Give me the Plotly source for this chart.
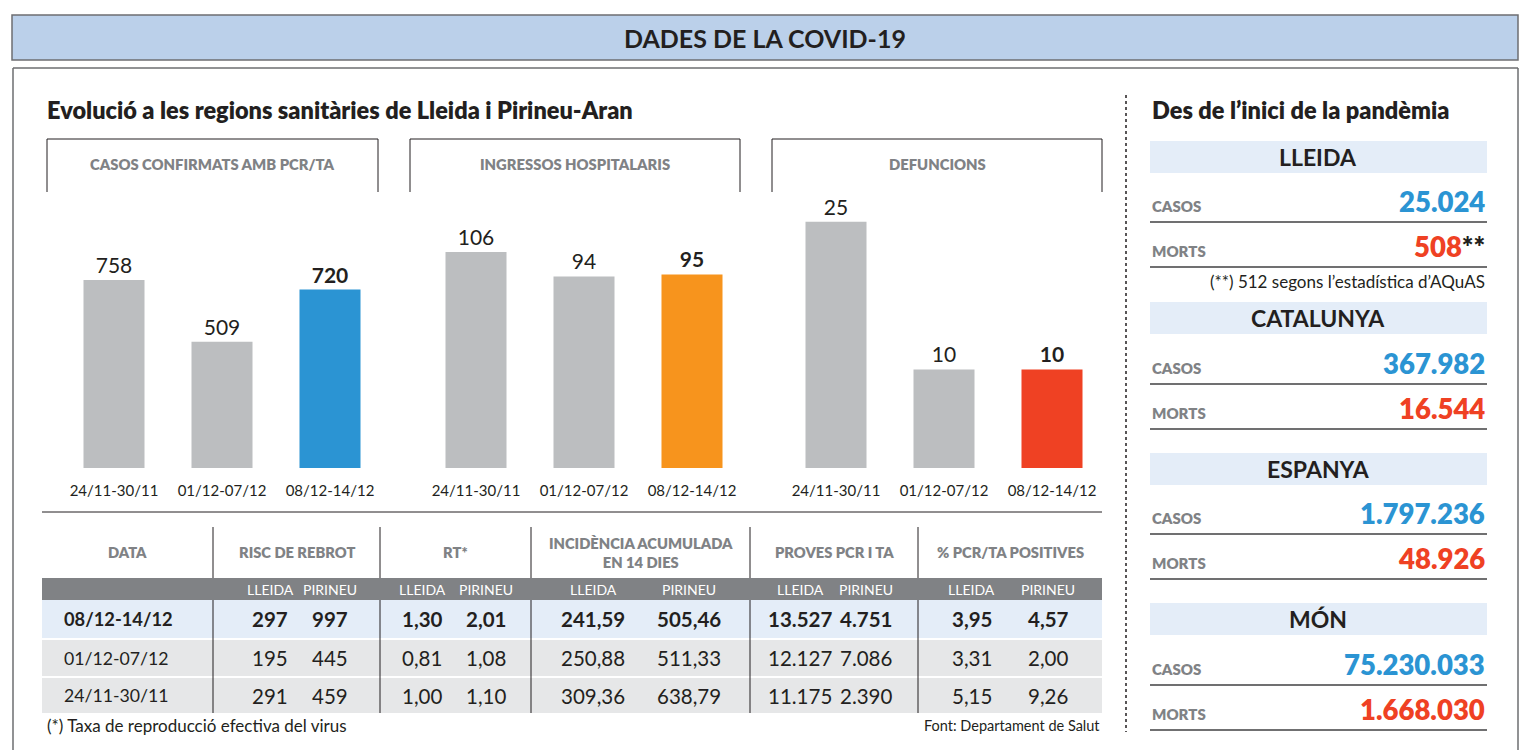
import plotly.graph_objects as go

# ---------------- data ----------------
weeks = ["24/11-30/11", "01/12-07/12", "08/12-14/12"]
casos_pcr = [758, 509, 720]
ingressos = [106, 94, 95]
defuncions = [25, 10, 10]
panel_titles = ["CASOS CONFIRMATS AMB PCR/TA", "INGRESSOS HOSPITALARIS", "DEFUNCIONS"]

table_headers = ["DATA", "RISC DE REBROT", "RT*", "INCIDÈNCIA ACUMULADA<br>EN 14 DIES",
                 "PROVES PCR I TA", "% PCR/TA POSITIVES"]
sub_headers = ["LLEIDA", "PIRINEU"]
table_weeks = ["08/12-14/12", "01/12-07/12", "24/11-30/11"]
risc_lleida = [297, 195, 291]
risc_pirineu = [997, 445, 459]
rt_lleida = [1.30, 0.81, 1.00]
rt_pirineu = [2.01, 1.08, 1.10]
ia_lleida = [241.59, 250.88, 309.36]
ia_pirineu = [505.46, 511.33, 638.79]
pcr_lleida = [13527, 12127, 11175]
pcr_pirineu = [4751, 7086, 2390]
pos_lleida = [3.95, 3.31, 5.15]
pos_pirineu = [4.57, 2.00, 9.26]

regions = ["LLEIDA", "CATALUNYA", "ESPANYA", "MÓN"]
total_cases = [25024, 367982, 1797236, 75230033]
total_deaths = [508, 16544, 48926, 1668030]

# ---------------- style ----------------
W, H = 1532, 750
GRAY_BAR = "#bcbec0"
ACCENTS = ["#2b94d3", "#f7941d", "#ef4123"]
BLUE = "#2b94d3"
RED = "#ef4123"
DARK = "#231f20"
MID = "#808285"
REG = "Lato, Open Sans, sans-serif"


def X(px):
    return px / W


def Y(py):
    return 1 - py / H


def fmt_int(n):
    return f"{n:,}".replace(",", ".")


def fmt_dec(v):
    return f"{v:.2f}".replace(".", ",")


fig = go.Figure()
shapes = []
ann = []


def line(x0, y0, x1, y1, color=DARK, width=1.0, dash=None):
    d = dict(type="line", xref="paper", yref="paper", x0=X(x0), y0=Y(y0), x1=X(x1), y1=Y(y1),
             line=dict(color=color, width=width))
    if dash:
        d["line"]["dash"] = dash
    shapes.append(d)


def rect(x0, y0, x1, y1, fill, lc=None, lw=0):
    shapes.append(dict(type="rect", xref="paper", yref="paper", x0=X(x0), y0=Y(y0), x1=X(x1), y1=Y(y1),
                       fillcolor=fill, line=dict(color=lc or fill, width=lw), layer="below"))


def text(x, y, s, size, color=DARK, weight=400, xanchor="center", yanchor="middle"):
    ann.append(dict(x=X(x), y=Y(y), xref="paper", yref="paper", text=s, showarrow=False,
                    xanchor=xanchor, yanchor=yanchor,
                    font=dict(size=size, color=color, family=REG, weight=weight)))


# banner
rect(12, 15, 1518, 60, "#bbd0ea", "#6d6e71", 1.5)
text(765, 38, "DADES DE LA COVID-19", 25, DARK, 700)

# outer box
line(13, 68, 1518, 68, "#6d6e71", 1.5)
line(13, 68, 13, 750, "#6d6e71", 1.5)
line(1518, 68, 1518, 750, "#6d6e71", 1.5)
# dotted separator
line(1126, 95, 1126, 732, DARK, 1.5, "dot")

# titles
text(45, 110, "Evolució a les regions sanitàries de Lleida i Pirineu-Aran", 23.5, DARK, 800, "left")
text(1150, 110, "Des de l’inici de la pandèmia", 23.5, DARK, 800, "left")

# bar panels
panels = [casos_pcr, ingressos, defuncions]
hdr_boxes = [(47, 378), (410, 740), (772, 1102)]
domains = [(60, 384), (422, 746), (782, 1106)]
ranges = [1081, 131.5, 27.2]
for i, vals in enumerate(panels):
    bx0, bx1 = hdr_boxes[i]
    shapes.append(dict(type="path", xref="paper", yref="paper",
                       path=f"M {X(bx0)},{Y(192)} L {X(bx0)},{Y(139)} L {X(bx1)},{Y(139)} L {X(bx1)},{Y(192)}",
                       line=dict(color=DARK, width=1)))
    text((bx0 + bx1) / 2, 164, panel_titles[i], 14.8, MID, 800)
    labels = [str(v) for v in vals[:-1]] + [f"<b>{vals[-1]}</b>"]
    ax = "" if i == 0 else str(i + 1)
    fig.add_trace(go.Bar(x=weeks, y=vals, marker=dict(color=[GRAY_BAR, GRAY_BAR, ACCENTS[i]], line=dict(width=0)),
                         text=labels, textposition="outside", cliponaxis=False, constraintext="none",
                         textfont=dict(size=21, family=REG, color=DARK), hoverinfo="skip",
                         xaxis="x" + ax, yaxis="y" + ax, showlegend=False))
    d0, d1 = domains[i]
    fig.layout["xaxis" + ax] = dict(domain=[X(d0), X(d1)], anchor="y" + ax, showgrid=False, zeroline=False,
                                    showline=False, ticks="", tickfont=dict(size=15, family=REG, color=DARK),
                                    ticklabelstandoff=12, fixedrange=True)
    fig.layout["yaxis" + ax] = dict(domain=[Y(468), Y(200)], anchor="x" + ax, range=[0, ranges[i]],
                                    visible=False, fixedrange=True)

# table
col_edges = [42, 213, 380, 531, 750, 918, 1102]
line(42, 512, 1102, 512, DARK, 1)
for xe in col_edges[1:-1]:
    line(xe, 527, xe, 578, DARK, 1)
    line(xe, 600, xe, 713, DARK, 1)
for j, h in enumerate(table_headers):
    cx = (col_edges[j] + col_edges[j + 1]) / 2
    text(cx, 552, h, 14.7, MID, 800)
rect(42, 578, 1102, 600, "#808285")
sub_x = [(270, 330), (422, 486), (593, 689), (800, 866), (972, 1048)]
for a, b in sub_x:
    text(a, 589, sub_headers[0], 14, "white")
    text(b, 589, sub_headers[1], 14, "white")
row_y = [(600, 638), (640, 676), (678, 713)]
row_fill = ["#e4edf8", "#e6e7e8", "#e6e7e8"]
cols = [(risc_lleida, risc_pirineu, str), (rt_lleida, rt_pirineu, fmt_dec), (ia_lleida, ia_pirineu, fmt_dec),
        (pcr_lleida, pcr_pirineu, fmt_int), (pos_lleida, pos_pirineu, fmt_dec)]
for r in range(3):
    y0, y1 = row_y[r]
    rect(42, y0, 1102, y1, row_fill[r])
    cy = (y0 + y1) / 2
    w = 700 if r == 0 else 400
    dsize = 18.3 if r == 0 else 17.7
    text(62, cy, table_weeks[r], dsize, DARK, w, "left")
    for k, (la, pi, f) in enumerate(cols):
        text(sub_x[k][0], cy, f(la[r]), 20.5, DARK, w)
        text(sub_x[k][1], cy, f(pi[r]), 20.5, DARK, w)
text(45, 725, "(*) Taxa de reproducció efectiva del virus", 17, DARK, 400, "left")
text(1102, 725, "Font: Departament de Salut", 14.5, DARK, 400, "right")

# right panel
blocks = [(141, 173, 222, 267), (302, 334, 384, 429), (453, 485, 534, 579), (603, 635, 685, 730)]
for i, (h0, h1, l1, l2) in enumerate(blocks):
    rect(1150, h0, 1487, h1, "#e4edf8")
    text(1318, (h0 + h1) / 2, regions[i], 23, DARK, 700)
    line(1150, l1, 1487, l1, "#414042", 1.5)
    line(1150, l2, 1487, l2, "#414042", 1.5)
    text(1150, l1 - 16, "CASOS", 15, MID, 800, "left")
    text(1150, l2 - 16, "MORTS", 15, MID, 800, "left")
    text(1487, l1 - 21, fmt_int(total_cases[i]), 27.5, BLUE, 800, "right")
    dv = fmt_int(total_deaths[i])
    if i == 0:
        dv = f"<span style='color:{RED}'>{fmt_int(total_deaths[i])}</span><span style='color:{DARK}'>**</span>"
    text(1487, l2 - 21, dv, 27.5, RED, 800, "right")
text(1487, 281, "(**) 512 segons l’estadística d’AQuAS", 17, DARK, 400, "right")

fig.update_layout(width=W, height=H, margin=dict(l=0, r=0, t=0, b=0), paper_bgcolor="white",
                  plot_bgcolor="rgba(0,0,0,0)", bargap=0.435, shapes=shapes, annotations=ann,
                  showlegend=False)
fig.write_html("out.html", config={"displayModeBar": False, "staticPlot": True},
               post_script="document.body.style.margin='0px';document.body.style.overflow='hidden';")
